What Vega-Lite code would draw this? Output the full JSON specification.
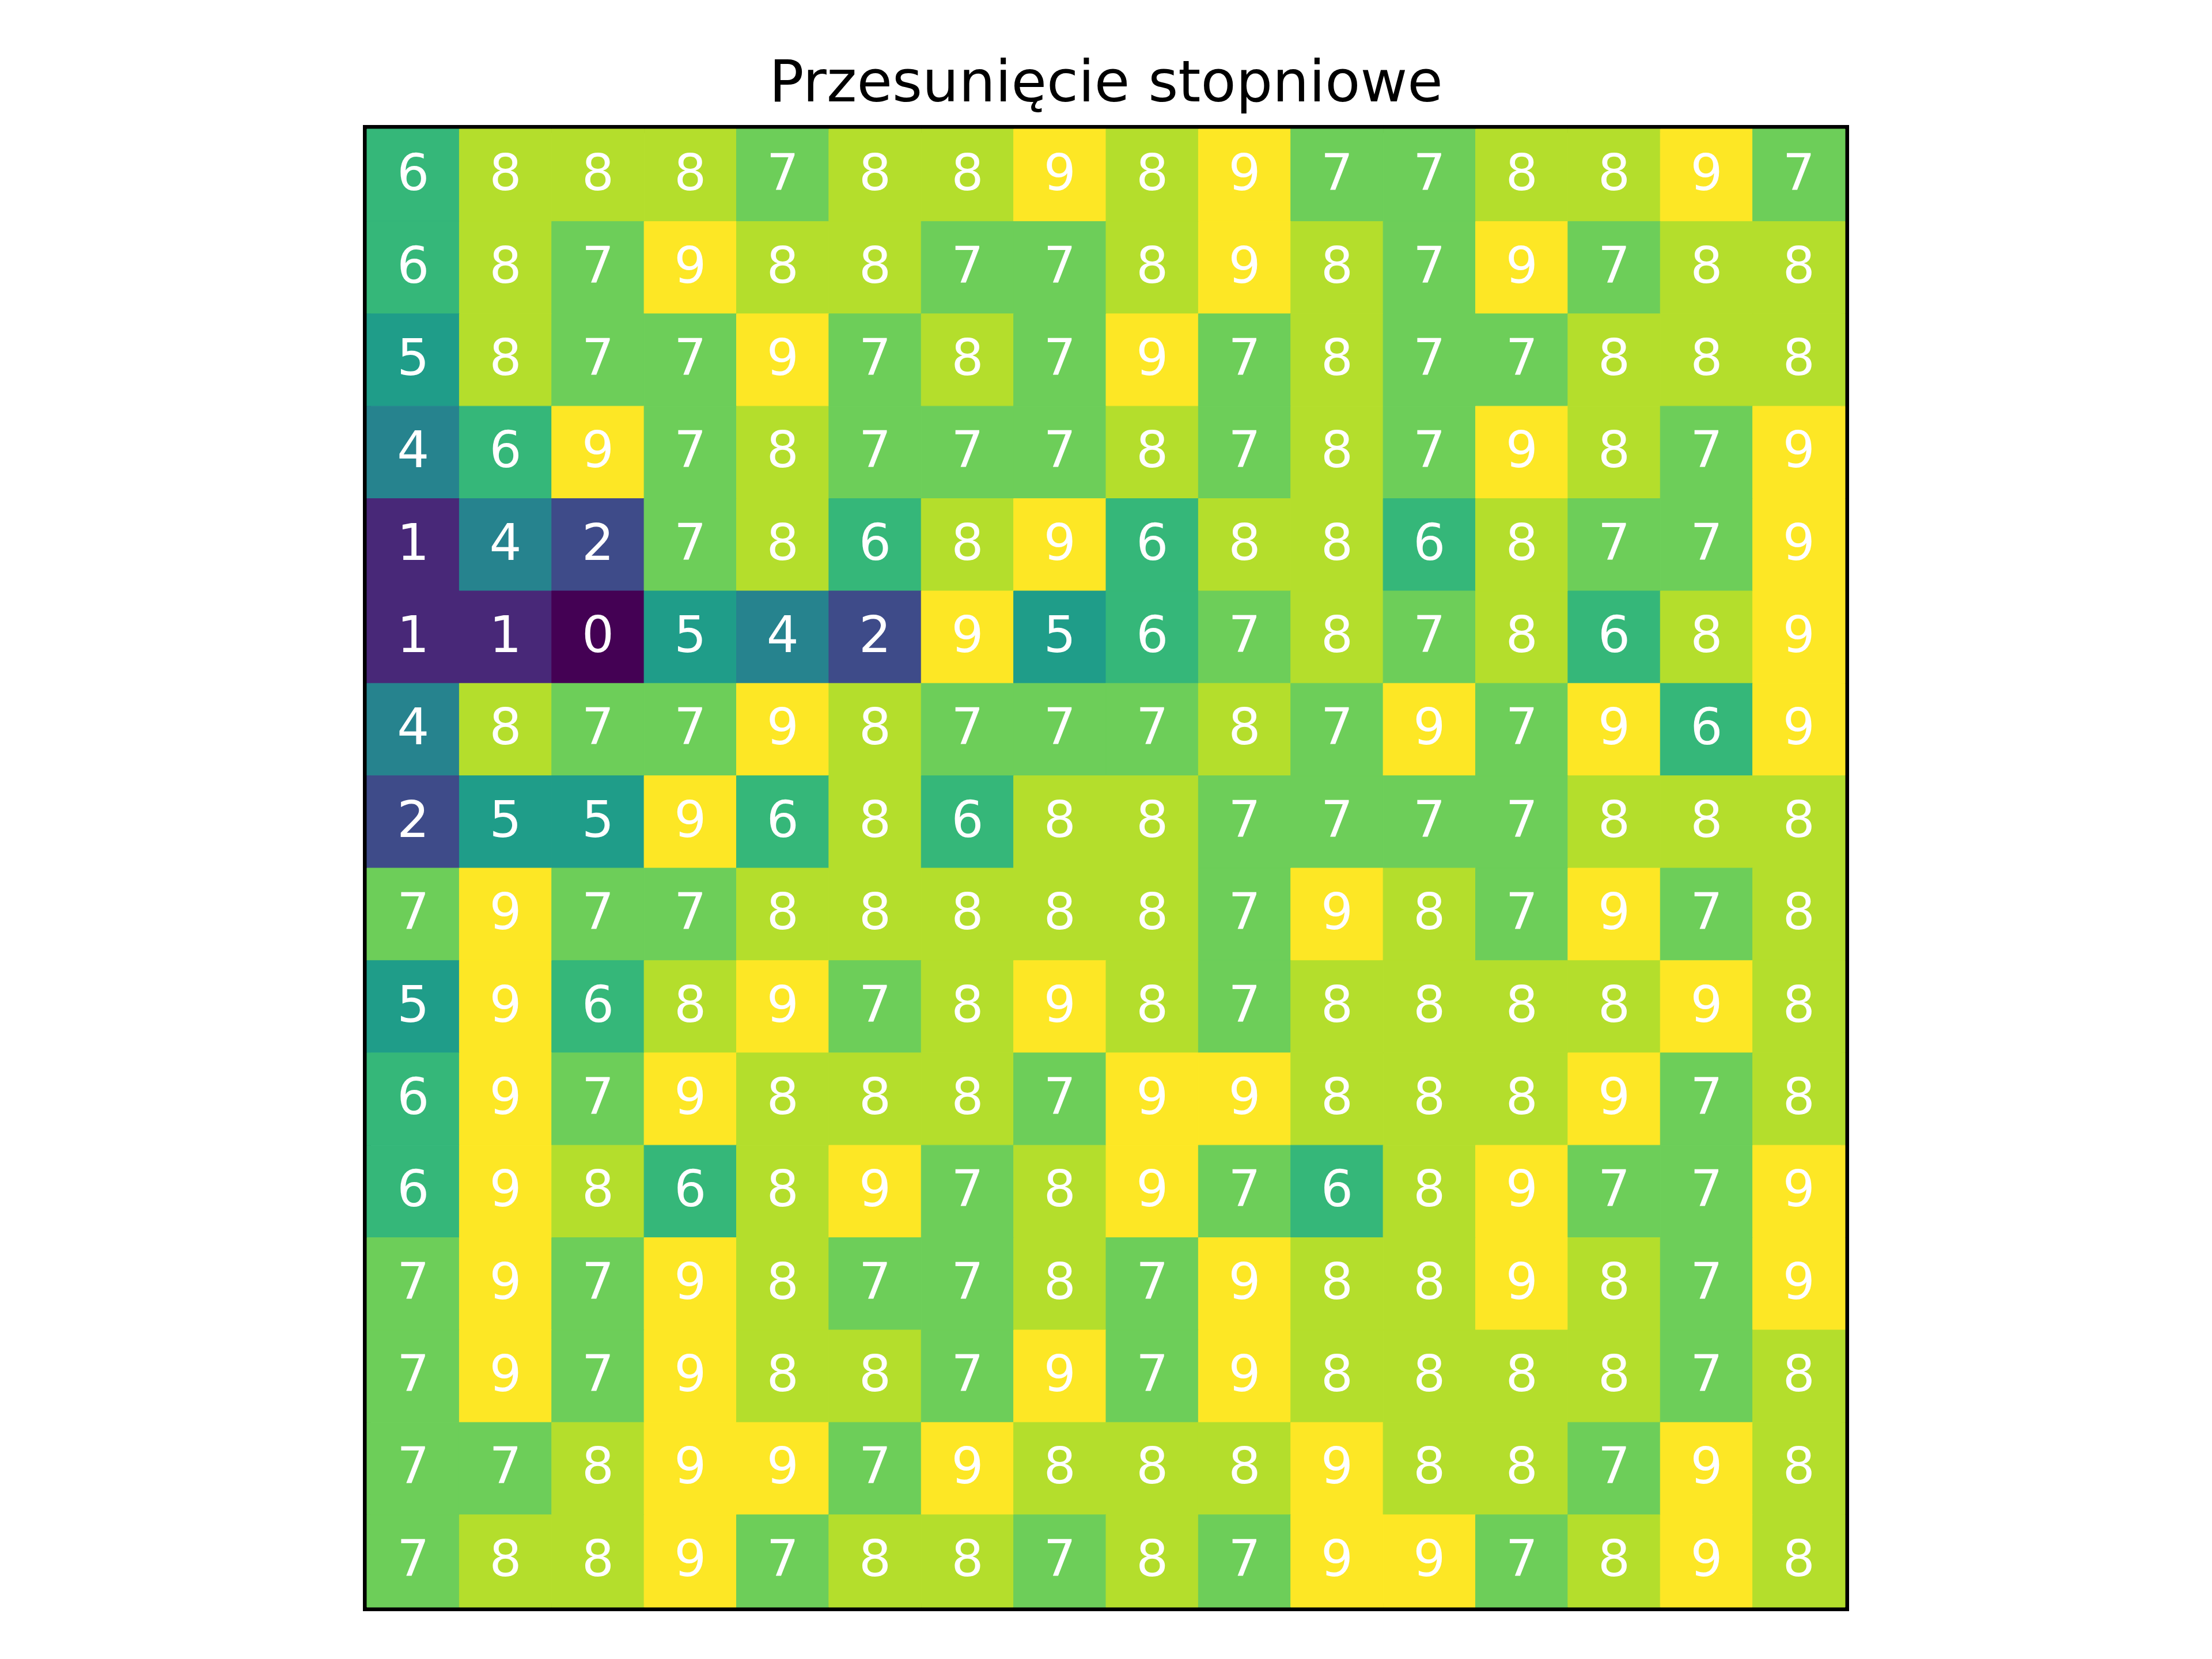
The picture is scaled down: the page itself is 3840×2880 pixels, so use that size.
{
  "$schema": "https://vega.github.io/schema/vega-lite/v6.json",
  "autosize": {"type": "none"},
  "padding": {"left": 637, "top": 224, "right": 637, "bottom": 90},
  "width": 2566,
  "height": 2566,
  "background": "white",
  "config": {
    "view": {"stroke": "black", "strokeWidth": 14},
    "font": "DejaVu Sans"
  },
  "title": {
    "text": "Przesunięcie stopniowe",
    "fontSize": 100,
    "font": "DejaVu Sans",
    "fontWeight": "normal",
    "color": "black",
    "baseline": "alphabetic",
    "offset": 51,
    "dy": 103,
    "anchor": "middle"
  },
  "data": {
    "values": [
      {"r":0,"c":0,"v":6},{"r":0,"c":1,"v":8},{"r":0,"c":2,"v":8},{"r":0,"c":3,"v":8},{"r":0,"c":4,"v":7},{"r":0,"c":5,"v":8},{"r":0,"c":6,"v":8},{"r":0,"c":7,"v":9},{"r":0,"c":8,"v":8},{"r":0,"c":9,"v":9},{"r":0,"c":10,"v":7},{"r":0,"c":11,"v":7},{"r":0,"c":12,"v":8},{"r":0,"c":13,"v":8},{"r":0,"c":14,"v":9},{"r":0,"c":15,"v":7},
      {"r":1,"c":0,"v":6},{"r":1,"c":1,"v":8},{"r":1,"c":2,"v":7},{"r":1,"c":3,"v":9},{"r":1,"c":4,"v":8},{"r":1,"c":5,"v":8},{"r":1,"c":6,"v":7},{"r":1,"c":7,"v":7},{"r":1,"c":8,"v":8},{"r":1,"c":9,"v":9},{"r":1,"c":10,"v":8},{"r":1,"c":11,"v":7},{"r":1,"c":12,"v":9},{"r":1,"c":13,"v":7},{"r":1,"c":14,"v":8},{"r":1,"c":15,"v":8},
      {"r":2,"c":0,"v":5},{"r":2,"c":1,"v":8},{"r":2,"c":2,"v":7},{"r":2,"c":3,"v":7},{"r":2,"c":4,"v":9},{"r":2,"c":5,"v":7},{"r":2,"c":6,"v":8},{"r":2,"c":7,"v":7},{"r":2,"c":8,"v":9},{"r":2,"c":9,"v":7},{"r":2,"c":10,"v":8},{"r":2,"c":11,"v":7},{"r":2,"c":12,"v":7},{"r":2,"c":13,"v":8},{"r":2,"c":14,"v":8},{"r":2,"c":15,"v":8},
      {"r":3,"c":0,"v":4},{"r":3,"c":1,"v":6},{"r":3,"c":2,"v":9},{"r":3,"c":3,"v":7},{"r":3,"c":4,"v":8},{"r":3,"c":5,"v":7},{"r":3,"c":6,"v":7},{"r":3,"c":7,"v":7},{"r":3,"c":8,"v":8},{"r":3,"c":9,"v":7},{"r":3,"c":10,"v":8},{"r":3,"c":11,"v":7},{"r":3,"c":12,"v":9},{"r":3,"c":13,"v":8},{"r":3,"c":14,"v":7},{"r":3,"c":15,"v":9},
      {"r":4,"c":0,"v":1},{"r":4,"c":1,"v":4},{"r":4,"c":2,"v":2},{"r":4,"c":3,"v":7},{"r":4,"c":4,"v":8},{"r":4,"c":5,"v":6},{"r":4,"c":6,"v":8},{"r":4,"c":7,"v":9},{"r":4,"c":8,"v":6},{"r":4,"c":9,"v":8},{"r":4,"c":10,"v":8},{"r":4,"c":11,"v":6},{"r":4,"c":12,"v":8},{"r":4,"c":13,"v":7},{"r":4,"c":14,"v":7},{"r":4,"c":15,"v":9},
      {"r":5,"c":0,"v":1},{"r":5,"c":1,"v":1},{"r":5,"c":2,"v":0},{"r":5,"c":3,"v":5},{"r":5,"c":4,"v":4},{"r":5,"c":5,"v":2},{"r":5,"c":6,"v":9},{"r":5,"c":7,"v":5},{"r":5,"c":8,"v":6},{"r":5,"c":9,"v":7},{"r":5,"c":10,"v":8},{"r":5,"c":11,"v":7},{"r":5,"c":12,"v":8},{"r":5,"c":13,"v":6},{"r":5,"c":14,"v":8},{"r":5,"c":15,"v":9},
      {"r":6,"c":0,"v":4},{"r":6,"c":1,"v":8},{"r":6,"c":2,"v":7},{"r":6,"c":3,"v":7},{"r":6,"c":4,"v":9},{"r":6,"c":5,"v":8},{"r":6,"c":6,"v":7},{"r":6,"c":7,"v":7},{"r":6,"c":8,"v":7},{"r":6,"c":9,"v":8},{"r":6,"c":10,"v":7},{"r":6,"c":11,"v":9},{"r":6,"c":12,"v":7},{"r":6,"c":13,"v":9},{"r":6,"c":14,"v":6},{"r":6,"c":15,"v":9},
      {"r":7,"c":0,"v":2},{"r":7,"c":1,"v":5},{"r":7,"c":2,"v":5},{"r":7,"c":3,"v":9},{"r":7,"c":4,"v":6},{"r":7,"c":5,"v":8},{"r":7,"c":6,"v":6},{"r":7,"c":7,"v":8},{"r":7,"c":8,"v":8},{"r":7,"c":9,"v":7},{"r":7,"c":10,"v":7},{"r":7,"c":11,"v":7},{"r":7,"c":12,"v":7},{"r":7,"c":13,"v":8},{"r":7,"c":14,"v":8},{"r":7,"c":15,"v":8},
      {"r":8,"c":0,"v":7},{"r":8,"c":1,"v":9},{"r":8,"c":2,"v":7},{"r":8,"c":3,"v":7},{"r":8,"c":4,"v":8},{"r":8,"c":5,"v":8},{"r":8,"c":6,"v":8},{"r":8,"c":7,"v":8},{"r":8,"c":8,"v":8},{"r":8,"c":9,"v":7},{"r":8,"c":10,"v":9},{"r":8,"c":11,"v":8},{"r":8,"c":12,"v":7},{"r":8,"c":13,"v":9},{"r":8,"c":14,"v":7},{"r":8,"c":15,"v":8},
      {"r":9,"c":0,"v":5},{"r":9,"c":1,"v":9},{"r":9,"c":2,"v":6},{"r":9,"c":3,"v":8},{"r":9,"c":4,"v":9},{"r":9,"c":5,"v":7},{"r":9,"c":6,"v":8},{"r":9,"c":7,"v":9},{"r":9,"c":8,"v":8},{"r":9,"c":9,"v":7},{"r":9,"c":10,"v":8},{"r":9,"c":11,"v":8},{"r":9,"c":12,"v":8},{"r":9,"c":13,"v":8},{"r":9,"c":14,"v":9},{"r":9,"c":15,"v":8},
      {"r":10,"c":0,"v":6},{"r":10,"c":1,"v":9},{"r":10,"c":2,"v":7},{"r":10,"c":3,"v":9},{"r":10,"c":4,"v":8},{"r":10,"c":5,"v":8},{"r":10,"c":6,"v":8},{"r":10,"c":7,"v":7},{"r":10,"c":8,"v":9},{"r":10,"c":9,"v":9},{"r":10,"c":10,"v":8},{"r":10,"c":11,"v":8},{"r":10,"c":12,"v":8},{"r":10,"c":13,"v":9},{"r":10,"c":14,"v":7},{"r":10,"c":15,"v":8},
      {"r":11,"c":0,"v":6},{"r":11,"c":1,"v":9},{"r":11,"c":2,"v":8},{"r":11,"c":3,"v":6},{"r":11,"c":4,"v":8},{"r":11,"c":5,"v":9},{"r":11,"c":6,"v":7},{"r":11,"c":7,"v":8},{"r":11,"c":8,"v":9},{"r":11,"c":9,"v":7},{"r":11,"c":10,"v":6},{"r":11,"c":11,"v":8},{"r":11,"c":12,"v":9},{"r":11,"c":13,"v":7},{"r":11,"c":14,"v":7},{"r":11,"c":15,"v":9},
      {"r":12,"c":0,"v":7},{"r":12,"c":1,"v":9},{"r":12,"c":2,"v":7},{"r":12,"c":3,"v":9},{"r":12,"c":4,"v":8},{"r":12,"c":5,"v":7},{"r":12,"c":6,"v":7},{"r":12,"c":7,"v":8},{"r":12,"c":8,"v":7},{"r":12,"c":9,"v":9},{"r":12,"c":10,"v":8},{"r":12,"c":11,"v":8},{"r":12,"c":12,"v":9},{"r":12,"c":13,"v":8},{"r":12,"c":14,"v":7},{"r":12,"c":15,"v":9},
      {"r":13,"c":0,"v":7},{"r":13,"c":1,"v":9},{"r":13,"c":2,"v":7},{"r":13,"c":3,"v":9},{"r":13,"c":4,"v":8},{"r":13,"c":5,"v":8},{"r":13,"c":6,"v":7},{"r":13,"c":7,"v":9},{"r":13,"c":8,"v":7},{"r":13,"c":9,"v":9},{"r":13,"c":10,"v":8},{"r":13,"c":11,"v":8},{"r":13,"c":12,"v":8},{"r":13,"c":13,"v":8},{"r":13,"c":14,"v":7},{"r":13,"c":15,"v":8},
      {"r":14,"c":0,"v":7},{"r":14,"c":1,"v":7},{"r":14,"c":2,"v":8},{"r":14,"c":3,"v":9},{"r":14,"c":4,"v":9},{"r":14,"c":5,"v":7},{"r":14,"c":6,"v":9},{"r":14,"c":7,"v":8},{"r":14,"c":8,"v":8},{"r":14,"c":9,"v":8},{"r":14,"c":10,"v":9},{"r":14,"c":11,"v":8},{"r":14,"c":12,"v":8},{"r":14,"c":13,"v":7},{"r":14,"c":14,"v":9},{"r":14,"c":15,"v":8},
      {"r":15,"c":0,"v":7},{"r":15,"c":1,"v":8},{"r":15,"c":2,"v":8},{"r":15,"c":3,"v":9},{"r":15,"c":4,"v":7},{"r":15,"c":5,"v":8},{"r":15,"c":6,"v":8},{"r":15,"c":7,"v":7},{"r":15,"c":8,"v":8},{"r":15,"c":9,"v":7},{"r":15,"c":10,"v":9},{"r":15,"c":11,"v":9},{"r":15,"c":12,"v":7},{"r":15,"c":13,"v":8},{"r":15,"c":14,"v":9},{"r":15,"c":15,"v":8}
    ]
  },
  "encoding": {
    "x": {"field": "c", "type": "ordinal", "axis": null, "scale": {"paddingInner": 0, "paddingOuter": 0}},
    "y": {"field": "r", "type": "ordinal", "axis": null, "scale": {"paddingInner": 0, "paddingOuter": 0}}
  },
  "layer": [
    {
      "mark": {"type": "rect", "strokeWidth": 1},
      "encoding": {
        "color": {"field": "v", "type": "quantitative", "legend": null, "scale": {"scheme": "viridis", "domain": [0, 9]}},
        "stroke": {"field": "v", "type": "quantitative", "legend": null, "scale": {"scheme": "viridis", "domain": [0, 9]}}
      }
    },
    {
      "mark": {"type": "text", "color": "white", "fontSize": 88, "font": "DejaVu Sans", "baseline": "middle", "align": "center"},
      "encoding": {
        "text": {"field": "v", "type": "quantitative"}
      }
    }
  ]
}
